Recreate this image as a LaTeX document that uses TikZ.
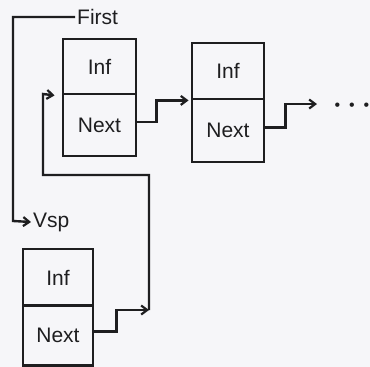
\documentclass[tikz,border=0pt]{standalone}
\usepackage{fontspec}
\setmainfont{Liberation Sans}
\usetikzlibrary{arrows.meta}
\definecolor{bg}{RGB}{246,246,249}
\definecolor{ink}{RGB}{30,30,32}
\begin{document}
\begin{tikzpicture}[x=1pt,y=-1pt,
  cell/.style={draw=ink, line width=2.8pt, text=ink, inner sep=0pt,
    font=\fontsize{21}{25}\selectfont},
  lbl/.style={text=ink, inner sep=2pt, font=\fontsize{21}{25}\selectfont},
  wire/.style={draw=ink, line width=2.4pt},
  tip/.style={wire, -{Straight Barb[length=6pt,width=9pt,line width=2.2pt]}}]
\fill[bg] (0,0) rectangle (370,367);
\useasboundingbox (0,0) rectangle (370,367);
% boxes
\node[cell, minimum width=73pt, minimum height=55pt] (i1) at (99.5,66.5) {Inf};
\node[cell, minimum width=73pt, minimum height=62pt] (n1) at (99.5,125) {Next};
\node[cell, minimum width=72pt, minimum height=56pt] (i2) at (228,71) {Inf};
\node[cell, minimum width=72pt, minimum height=63pt] (n2) at (228,130.5) {Next};
\node[cell, minimum width=70pt, minimum height=57pt] (i3) at (58,277.5) {Inf};
\node[cell, minimum width=70pt, minimum height=60pt] (n3) at (58,335.5) {Next};
% labels
\node[lbl, anchor=west] (first) at (75,17) {First};
\node[lbl, anchor=west] (vsp) at (31,222) {Vsp};
\node[lbl, anchor=base west, inner sep=0pt, font=\fontsize{16}{18}\selectfont] (dots) at (334.5,110.5) {•\hspace{8.9pt}•\hspace{8.9pt}•};
% coordinates
\coordinate (fc) at (13,17);
\coordinate (vc) at (13,221);
\coordinate (d1) at (317,104);
\coordinate (r1) at (149,310);
\coordinate (r2) at (149,175);
\coordinate (r3) at (43,94);
% connectors
\draw[tip] (first.west) -- (fc) -- (vc) -- (vsp.west);
\draw[tip] ([yshift=3pt]n1.east) -- ++(19,0) |- ([xshift=-2pt]i2.south west);
\draw[tip] ([yshift=3pt]n2.east) -- ++(20,0) |- (d1);
\draw[tip] ([yshift=4pt]n3.east) -- ++(22,0) |- (r1);
\draw[tip] (r1) -- (r2) -| (r3) -- ([xshift=-7pt]i1.south west);
\end{tikzpicture}
\end{document}
